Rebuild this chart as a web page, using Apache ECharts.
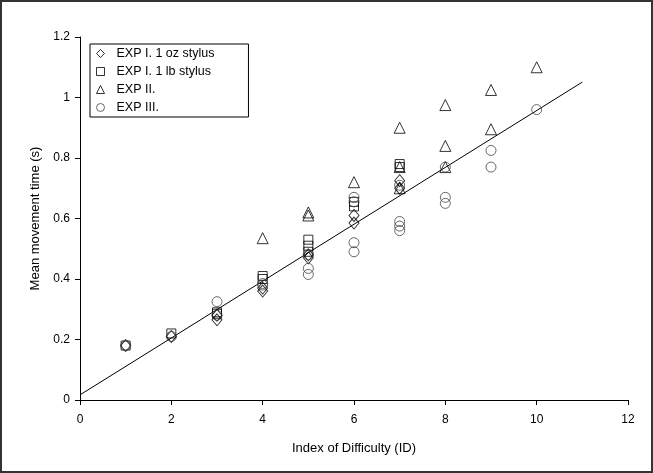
<!DOCTYPE html>
<html>
<head>
<meta charset="utf-8">
<script src="https://cdn.jsdelivr.net/npm/echarts@6/dist/echarts.min.js"></script>
<style>
  html, body { margin: 0; padding: 0; background: #fff; }
  #chart { width: 653px; height: 473px; }
</style>
</head>
<body>
<div id="chart"></div>
<script>
// Index of difficulty (x) and mean movement time in seconds (y) per experiment
const ozX = [1, 2, 3, 3, 4, 4, 5, 5, 6, 6, 7, 7];
const ozY = [0.18, 0.21, 0.265, 0.28, 0.37, 0.36, 0.47, 0.48, 0.585, 0.61, 0.725, 0.70];

const lbX = [1, 2, 3, 3, 4, 4, 5, 5, 5, 6, 6, 7, 7];
const lbY = [0.18, 0.22, 0.285, 0.29, 0.41, 0.40, 0.53, 0.51, 0.49, 0.655, 0.64, 0.78, 0.77];

const exp2X = [4, 5, 5, 6, 7, 7, 7, 8, 8, 8, 9, 9, 10];
const exp2Y = [0.535, 0.62, 0.61, 0.72, 0.90, 0.77, 0.70, 0.975, 0.84, 0.77, 1.025, 0.895, 1.10];

const exp3X = [1, 2, 3, 3, 4, 4, 5, 5, 5, 6, 6, 6, 6, 7, 7, 7, 7, 8, 8, 8, 9, 9, 10];
const exp3Y = [0.18, 0.21, 0.325, 0.28, 0.385, 0.38, 0.48, 0.435, 0.415, 0.67, 0.655, 0.52, 0.49,
               0.71, 0.59, 0.575, 0.56, 0.77, 0.67, 0.65, 0.825, 0.77, 0.96];

const seriesNames = ['EXP I. 1 oz stylus', 'EXP I. 1 lb stylus', 'EXP II.', 'EXP III.'];

// Linear fit drawn across the data
const fitIntercept = 0.017;
const fitSlope = 0.094;
const fitRange = [0, 11];

const xTicks = { min: 0, max: 12, interval: 2 };
const yTicks = { min: 0, max: 1.2, interval: 0.2 };

const pairs = (xs, ys) => xs.map((x, i) => [x, ys[i]]);
const fitLine = fitRange.map(x => [x, fitIntercept + fitSlope * x]);

const font = 'Liberation Sans, Arial, sans-serif';

function scatter(name, symbol, size, xs, ys, stroke) {
  return {
    name: name,
    type: 'scatter',
    symbol: symbol,
    symbolSize: size,
    data: pairs(xs, ys),
    itemStyle: { color: 'rgba(255,255,255,0)', borderColor: stroke, borderWidth: 1 },
    emphasis: { disabled: true },
    z: 3
  };
}

const chart = echarts.init(document.getElementById('chart'), null, { renderer: 'canvas' });
chart.setOption({
  animation: false,
  backgroundColor: '#fff',
  textStyle: { fontFamily: font },
  grid: { left: 80, right: 25, top: 37, bottom: 73 },
  graphic: [{
    type: 'rect',
    shape: { x: 1, y: 1, width: 651, height: 471 },
    style: { fill: 'none', stroke: '#333', lineWidth: 2 },
    silent: true
  }],
  legend: {
    orient: 'vertical',
    left: 90,
    top: 44,
    padding: [3, 34, 3, 6],
    itemGap: 5,
    itemWidth: 8,
    itemHeight: 8,
    borderColor: '#000',
    borderWidth: 1,
    data: seriesNames,
    itemStyle: { borderWidth: 1 },
    textStyle: { fontFamily: font, fontSize: 12.5, color: '#000', padding: [0, 0, 0, 7] }
  },
  xAxis: {
    type: 'value',
    min: xTicks.min, max: xTicks.max, interval: xTicks.interval,
    name: 'Index of Difficulty (ID)',
    nameLocation: 'middle',
    nameGap: 42,
    nameTextStyle: { fontFamily: font, fontSize: 13, color: '#000' },
    axisLine: { lineStyle: { color: '#000', width: 1 } },
    axisTick: { show: true, length: 5, lineStyle: { color: '#000' } },
    axisLabel: { fontFamily: font, fontSize: 12, color: '#000', margin: 14 },
    splitLine: { show: false }
  },
  yAxis: {
    type: 'value',
    min: yTicks.min, max: yTicks.max, interval: yTicks.interval,
    name: 'Mean movement time (s)',
    nameLocation: 'middle',
    nameGap: 38,
    nameTextStyle: { fontFamily: font, fontSize: 13, color: '#000' },
    axisLine: { show: true, lineStyle: { color: '#000', width: 1 } },
    axisTick: { show: true, length: 5, lineStyle: { color: '#000' } },
    axisLabel: { fontFamily: font, fontSize: 12, color: '#000', margin: 10 },
    splitLine: { show: false }
  },
  series: [
    {
      name: 'fit',
      type: 'line',
      data: fitLine,
      symbol: 'none',
      lineStyle: { color: '#000', width: 1 },
      emphasis: { disabled: true },
      z: 2
    },
    scatter(seriesNames[0], 'diamond', [10, 12], ozX, ozY, '#000'),
    scatter(seriesNames[1], 'rect', 9, lbX, lbY, '#000'),
    scatter(seriesNames[2], 'triangle', 11, exp2X, exp2Y, '#000'),
    scatter(seriesNames[3], 'circle', 10, exp3X, exp3Y, '#444')
  ]
});
</script>
</body>
</html>
